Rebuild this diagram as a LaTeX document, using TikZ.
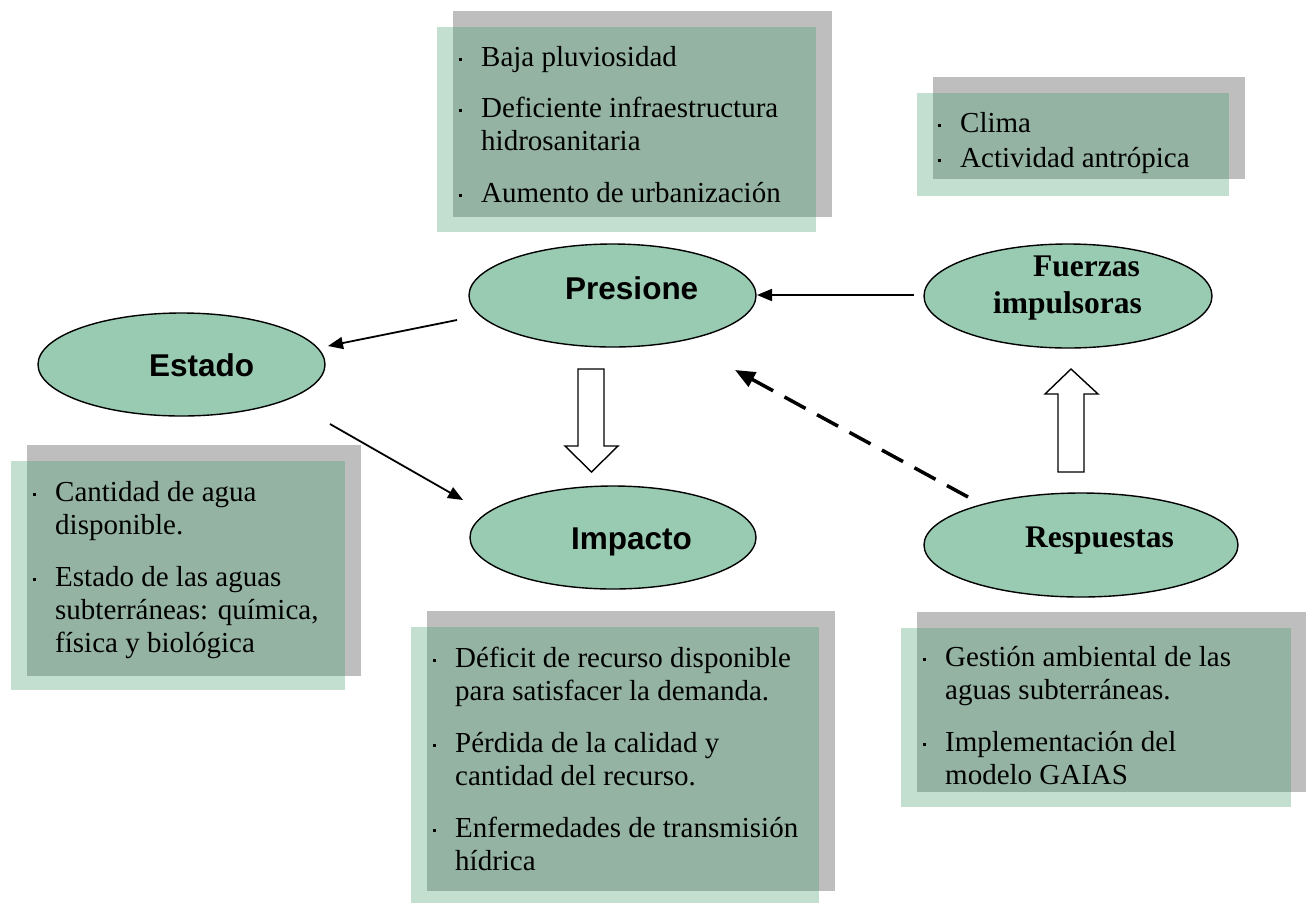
\documentclass[tikz,border=0pt]{standalone}
\usepackage{fontspec}
\setmainfont{Liberation Serif}
\newfontfamily\arialf{Liberation Sans}
\usetikzlibrary{arrows.meta,shapes.geometric}
\definecolor{shadowgray}{HTML}{BEBEBE}
\definecolor{boxgreen}{HTML}{C2DFD0}
\definecolor{overlapg}{HTML}{94B3A3}
\definecolor{ellfill}{HTML}{99CBB2}
\newcommand\sqbul{\makebox[22pt][l]{\raisebox{5.5pt}{\rule{3pt}{3pt}}}}
\tikzset{
  ell/.style={ellipse, draw=black, line width=1.4pt, fill=ellfill, inner sep=0pt, outer sep=0pt},
  body/.style={anchor=base west, inner sep=0pt, font=\fontsize{29}{33}\selectfont},
  sanslab/.style={anchor=base west, inner sep=0pt, font=\arialf\bfseries\fontsize{31.5}{36}\selectfont},
  seriflab/.style={anchor=base west, inner sep=0pt, font=\bfseries\fontsize{31.5}{36}\selectfont},
  conn/.style={line width=1.8pt, -{Triangle[length=15pt,width=12pt]}},
  dconn/.style={line width=3.5pt, dash pattern=on 24pt off 13pt, -{Triangle[length=20pt,width=16pt]}},
  blockarrow/.style={draw=black, line width=1.4pt, fill=white, line join=miter},
}
\begin{document}
\begin{tikzpicture}[x=1pt,y=-1pt]
\useasboundingbox (0,0) rectangle (1306,903);

% ---- shadow boxes ----
% Presione box
\fill[shadowgray] (453,11) rectangle (832,217);
\fill[boxgreen] (437,27) rectangle (816,232);
\fill[overlapg] (453,27) rectangle (816,217);
% Fuerzas box
\fill[shadowgray] (933,77) rectangle (1245,179);
\fill[boxgreen] (917,93) rectangle (1229,196);
\fill[overlapg] (933,93) rectangle (1229,179);
% Estado box
\fill[shadowgray] (27,445) rectangle (361,676);
\fill[boxgreen] (11,461) rectangle (345,690);
\fill[overlapg] (27,461) rectangle (345,676);
% Impacto box
\fill[shadowgray] (427,611) rectangle (835,891);
\fill[boxgreen] (411,627) rectangle (819,903);
\fill[overlapg] (427,627) rectangle (819,891);
% Respuestas box
\fill[shadowgray] (917,612) rectangle (1306,792);
\fill[boxgreen] (901,628) rectangle (1291,807);
\fill[overlapg] (917,628) rectangle (1291,792);

% ---- box texts ----
\node[body] (p1) at (459,66) {\sqbul Baja pluviosidad};
\node[body] (p2) at (459,117) {\sqbul Deficiente infraestructura};
\node[body] (p2b) at (481,150) {hidrosanitaria};
\node[body] (p3) at (459,202) {\sqbul Aumento de urbanización};

\node[body] (f1) at (938,132) {\sqbul Clima};
\node[body] (f2) at (938,167) {\sqbul Actividad antrópica};

\node[body] (e1) at (33,501) {\sqbul Cantidad de agua};
\node[body] (e1b) at (55,534) {disponible.};
\node[body] (e2) at (33,586) {\sqbul Estado de las aguas};
\node[body] (e2b) at (55,619) {subterráneas: química,};
\node[body] (e2c) at (55,652) {física y biológica};

\node[body] (i1) at (433,667) {\sqbul Déficit de recurso disponible};
\node[body] (i1b) at (455,700) {para satisfacer la demanda.};
\node[body] (i2) at (433,752) {\sqbul Pérdida de la calidad y};
\node[body] (i2b) at (455,785) {cantidad del recurso.};
\node[body] (i3) at (433,837) {\sqbul Enfermedades de transmisión};
\node[body] (i3b) at (455,870) {hídrica};

\node[body] (r1) at (923,666) {\sqbul Gestión ambiental de las};
\node[body] (r1b) at (945,699) {aguas subterráneas.};
\node[body] (r2) at (923,751) {\sqbul Implementación del};
\node[body] (r2b) at (945,784) {modelo GAIAS};

% ---- ellipses ----
\node[ell, minimum width=287pt, minimum height=103pt] (pres) at (612.5,295.5) {};
\node[ell, minimum width=287pt, minimum height=103pt] (est) at (181.5,364.5) {};
\node[ell, minimum width=286pt, minimum height=103pt] (imp) at (613,537.5) {};
\node[ell, minimum width=288pt, minimum height=104pt] (fue) at (1068,296) {};
\node[ell, minimum width=314pt, minimum height=104pt] (resp) at (1081,545) {};

\node[sanslab] (presl) at (565,299) {Presione};
\node[sanslab] (estl) at (149,376) {Estado};
\node[sanslab] (impl) at (571,549) {Impacto};
\node[seriflab] (fuel1) at (1033,276) {Fuerzas};
\node[seriflab] (fuel2) at (993,313) {impulsoras};
\node[seriflab] (respl) at (1025,547) {Respuestas};

% ---- connectors ----
\coordinate (a1s) at (457,320);
\coordinate (a1e) at (328,346);
\coordinate (a2s) at (330,424);
\coordinate (a2e) at (463,500);
\coordinate (a3s) at (914,295);
\coordinate (a3e) at (757,295);
\coordinate (a4s) at (968,497);
\coordinate (a4e) at (735,370);
\draw[conn] (a1s) -- (a1e);
\draw[conn] (a2s) -- (a2e);
\draw[conn] (a3s) -- (a3e);
\draw[dconn] (a4s) -- (a4e);

% ---- block arrows ----
\draw[blockarrow] (578,369) -- (604,369) -- (604,446) -- (618,446) -- (591.5,472) -- (565,446) -- (578,446) -- cycle;
\draw[blockarrow] (1058,472) -- (1084,472) -- (1084,394) -- (1098,394) -- (1071,369) -- (1045,394) -- (1058,394) -- cycle;
\end{tikzpicture}
\end{document}
